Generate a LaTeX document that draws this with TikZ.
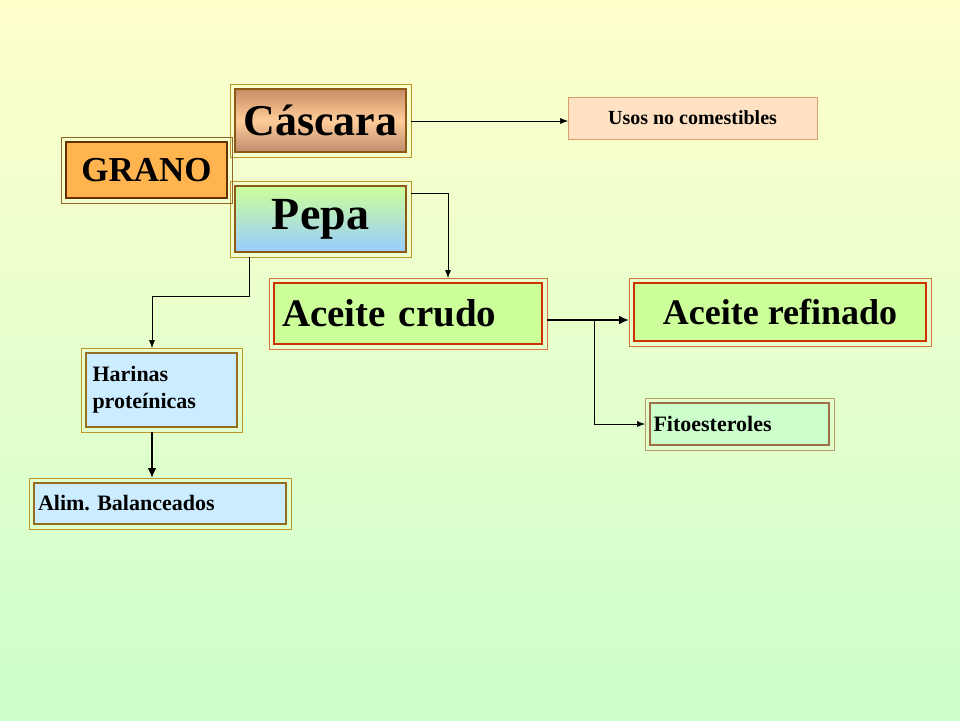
\documentclass[tikz,border=0pt]{standalone}
\usepackage{fontspec}
\setmainfont{Liberation Serif}
\frenchspacing
\usetikzlibrary{arrows.meta}
\definecolor{gold}{HTML}{BE9628}
\definecolor{brownA}{HTML}{8C5A14}
\definecolor{casT}{HTML}{C88C64}
\definecolor{casM}{HTML}{FFCC99}
\definecolor{casB}{HTML}{BE8C6E}
\definecolor{pepT}{HTML}{CCFF99}
\definecolor{pepB}{HTML}{99CCFF}
\definecolor{granoO}{HTML}{966428}
\definecolor{granoB}{HTML}{643200}
\definecolor{granoF}{HTML}{FFB450}
\definecolor{usosD}{HTML}{DCA06E}
\definecolor{usosF}{HTML}{FFE1C3}
\definecolor{redO}{HTML}{D2783C}
\definecolor{redB}{HTML}{CC3300}
\definecolor{grnF}{HTML}{CCFF99}
\definecolor{harB}{HTML}{966E1E}
\definecolor{harF}{HTML}{CCECFF}
\definecolor{fitoO}{HTML}{BE9664}
\definecolor{fitoB}{HTML}{A06E46}
\definecolor{fitoF}{HTML}{CCFFCC}
\begin{document}
\begin{tikzpicture}[x=1pt,y=-1pt,
  outer/.style={draw=#1,line width=0.8pt},
  bx/.style={draw=#1,line width=2.5pt,inner sep=0pt,font=\bfseries},
  con/.style={line width=0.6pt,-{Latex[length=8pt,width=6pt]}},
  thickcon/.style={line width=2.2pt,-{Latex[length=10pt,width=9pt]}}]
\useasboundingbox (0,0) rectangle (960,720);
\shade[top color=yellow!20,bottom color=green!20] (0,0) rectangle (960,720);
% Cascara
\draw[outer=gold] (230,84) rectangle (411,157);
\node[bx=brownA,minimum width=171pt,minimum height=63pt,
  top color=casT,bottom color=casB,middle color=casM,font=\bfseries\fontsize{44}{46}\selectfont] (cas) at (320.5,120.5) {Cáscara};
% Pepa
\draw[outer=gold] (230,181) rectangle (411,257);
\node[bx=brownA,minimum width=171pt,minimum height=66pt,
  top color=pepT,bottom color=pepB,font=\bfseries\fontsize{46}{48}\selectfont] (pepa) at (320.5,219) {Pepa};
% Grano
\draw[outer=granoO] (61,137) rectangle (232,203);
\node[bx=granoB,minimum width=161pt,minimum height=56pt,fill=granoF,font=\bfseries\fontsize{35}{37}\selectfont] (grano) at (146.5,170) {GRANO};
% Usos
\node[draw=usosD,line width=0.8pt,fill=usosF,minimum width=249pt,minimum height=42pt,inner sep=0pt,font=\bfseries\fontsize{20}{22}\selectfont] (usos) at (692.5,118) {Usos no comestibles};
% Aceite crudo
\draw[outer=redO] (269,278) rectangle (547,349);
\node[bx=redB,minimum width=268pt,minimum height=61pt,fill=grnF,align=left,text width=252pt,font=\bfseries\fontsize{39}{41}\selectfont] (crudo) at (408,313.5) {Aceite crudo};
% Aceite refinado
\draw[outer=redO] (629,278) rectangle (931,346);
\node[bx=redB,minimum width=292pt,minimum height=58pt,fill=grnF,font=\bfseries\fontsize{36}{38}\selectfont] (ref) at (780,312) {Aceite refinado};
% Harinas
\draw[outer=gold] (81,348) rectangle (242,432);
\node[bx=harB,minimum width=151pt,minimum height=74pt,fill=harF,align=left,text width=138pt,font=\bfseries\fontsize{22}{27}\selectfont] (har) at (161.5,390) {Harinas\\proteínicas};
% Alim
\draw[outer=gold] (29,478) rectangle (291,529);
\node[bx=harB,minimum width=252pt,minimum height=41pt,fill=harF,align=left,text width=244pt,font=\bfseries\fontsize{22}{24}\selectfont] (alim) at (160,503.5) {Alim. Balanceados};
% Fito
\draw[outer=fitoO] (645,398) rectangle (834,450);
\node[bx=fitoB,minimum width=179pt,minimum height=42pt,fill=fitoF,align=left,text width=172pt,font=\bfseries\fontsize{22}{24}\selectfont] (fito) at (739.5,424) {Fitoesteroles};
% connectors
\coordinate (casR) at (411,121);
\coordinate (pepR) at (411,193);
\coordinate (pepBt) at (249,257);
\coordinate (usosL) at (568,121);
\coordinate (crudoT) at (448,278);
\coordinate (harT) at (152,348);
\coordinate (harBt) at (152,432);
\coordinate (alimT) at (152,478);
\coordinate (crudoR) at (547,320);
\coordinate (refL) at (629,320);
\coordinate (br) at (594,320);
\coordinate (fitoL) at (645,424);
\draw[con] (casR) -- (usosL);
\draw[con] (pepR) -| (crudoT);
\draw[con] (pepBt) |- (152,296) -- (harT);
\draw[thickcon] (harBt) -- (alimT);
\draw[thickcon] (crudoR) -- (refL);
\draw[con] (br) |- (fitoL);
\end{tikzpicture}
\end{document}
